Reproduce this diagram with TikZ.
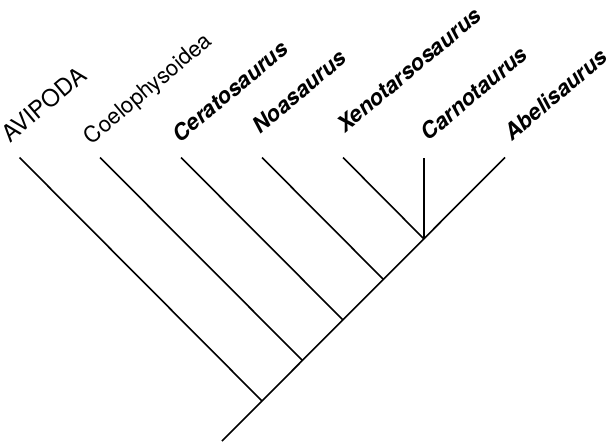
\documentclass[tikz,border=0pt]{standalone}
\usepackage{fontspec}
\setmainfont{TeX Gyre Heros}
\begin{document}
\begin{tikzpicture}[x=1pt,y=-1pt,
  branch/.style={line width=1.6pt, line cap=butt},
  taxon/.style={rotate=40, anchor=base west, inner sep=0pt, font=\fontsize{22.2}{24}\selectfont},
  genus/.style={taxon, font=\fontsize{22.2}{24}\selectfont\bfseries\itshape}]
\useasboundingbox (0,0) rectangle (606,442);
% junctions
\coordinate (root) at (222,441);
\coordinate (j0) at (262,401);
\coordinate (j1) at (302.5,360.5);
\coordinate (j2) at (343,320);
\coordinate (j3) at (383.5,279.5);
\coordinate (j4) at (424,239);
% tips
\coordinate (t0) at (19.5,157.5);
\coordinate (t1) at (100,157.5);
\coordinate (t2) at (181,157.5);
\coordinate (t3) at (262,157.5);
\coordinate (t4) at (343,157.5);
\coordinate (t5) at (424,157.5);
\coordinate (t6) at (505,157.5);
% branches
\draw[branch] (root) -- (t6);
\draw[branch] (j0) -- (t0);
\draw[branch] (j1) -- (t1);
\draw[branch] (j2) -- (t2);
\draw[branch] (j3) -- (t3);
\draw[branch] (j4) -- (t4);
\draw[branch] (j4) -- (t5);
% labels
\node[taxon, font=\fontsize{23.5}{25}\selectfont] (l0) at (10,144) {AVIPODA};
\node[taxon] (l1) at (91.7,145.2) {Coelophysoidea};
\node[genus] (l2) at (180.4,143.2) {Ceratosaurus};
\node[genus] (l3) at (260.3,134.5) {Noasaurus};
\node[genus] (l4) at (345,134) {Xenotarsosaurus};
\node[genus] (l5) at (428.7,141.5) {Carnotaurus};
\node[genus] (l6) at (512,141.5) {Abelisaurus};
\end{tikzpicture}
\end{document}
